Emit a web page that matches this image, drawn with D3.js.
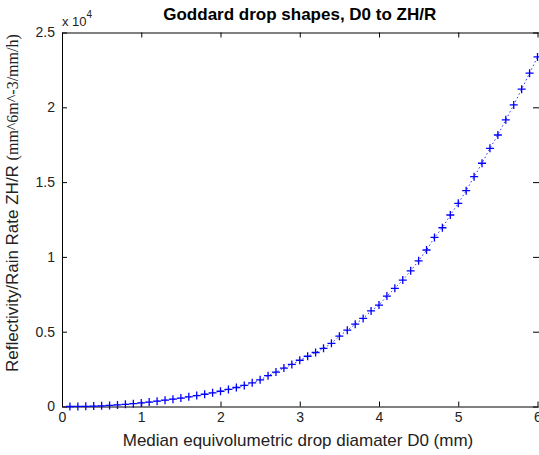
<!DOCTYPE html>
<html>
<head>
<meta charset="utf-8">
<script src="https://cdn.jsdelivr.net/npm/d3@7"></script>
<style>
body { margin: 0; background: #fff; }
svg { display: block; font-family: "Liberation Sans", Arial, sans-serif; }
</style>
</head>
<body>
<script>
// median drop diameter D0 (mm)
var d0 = [0.1,0.2,0.3,0.4,0.5,0.6,0.7,0.8,0.9,1.0,
	1.1,1.2,1.3,1.4,1.5,1.6,1.7,1.8,1.9,2.0,
	2.1,2.2,2.3,2.4,2.5,2.6,2.7,2.8,2.9,3.0,
	3.1,3.2,3.3,3.4,3.5,3.6,3.7,3.8,3.9,4.0,
	4.1,4.2,4.3,4.4,4.5,4.6,4.7,4.8,4.9,5.0,
	5.1,5.2,5.3,5.4,5.5,5.6,5.7,5.8,5.9,6.0];
// ZH/R
var zhr = [1,4,12,26,46,72,105,145,190,240,
	295,355,420,490,565,645,730,820,915,1020,
	1140,1270,1410,1580,1780,2060,2300,2570,2810,3090,
	3360,3610,3890,4220,4700,5100,5500,5890,6390,6780,
	7380,7900,8450,9070,9740,10460,11300,11950,12800,13580,
	14430,15360,16260,17260,18150,19160,20160,21210,22280,23370];
var xTicks = [0,1,2,3,4,5,6];
var yTicks = [0,5000,10000,15000,20000,25000];

var W = 539, H = 455;
var mLeft = 62, mRight = 537.5, mTop = 32.5, mBottom = 406.5;

var svg = d3.select("body").append("svg")
	.attr("width", W)
	.attr("height", H);
svg.append("rect").attr("width", W).attr("height", H).attr("fill", "#fff");

var x = d3.scaleLinear().domain([0, 6]).range([mLeft, mRight]);
var y = d3.scaleLinear().domain([0, 25000]).range([mBottom, mTop]);

function style_axis(g){
	g.selectAll("path.domain").attr("stroke", "#000").attr("stroke-width", 1);
	g.selectAll(".tick line").attr("stroke", "#000");
	g.selectAll(".tick text").attr("fill", "#222")
		.style("font-size", "14px")
		.style("font-family", "Liberation Sans, Arial, sans-serif");
}

// bottom
svg.append("g").attr("transform", "translate(0," + mBottom + ")")
	.call(d3.axisBottom(x).tickValues(xTicks).tickFormat(function(d){ return String(d); })
		.tickSizeInner(-5).tickSizeOuter(0).tickPadding(6))
	.call(style_axis);
// left
svg.append("g").attr("transform", "translate(" + mLeft + ",0)")
	.call(d3.axisLeft(y).tickValues(yTicks).tickFormat(function(d){ return String(d/1e4); })
		.tickSizeInner(-5).tickSizeOuter(0).tickPadding(7))
	.call(style_axis);
// top
svg.append("g").attr("transform", "translate(0," + mTop + ")")
	.call(d3.axisTop(x).tickValues(xTicks).tickFormat("").tickSizeInner(-5).tickSizeOuter(0))
	.call(style_axis);
// right (border line falls outside the picture, only ticks show)
var gr = svg.append("g").attr("transform", "translate(" + (mRight + 1.5) + ",0)")
	.call(d3.axisRight(y).tickValues(yTicks).tickFormat("").tickSizeInner(-6).tickSizeOuter(0))
	.call(style_axis);
gr.select("path.domain").remove();

// exponent
var ex = svg.append("text")
	.attr("x", mLeft)
	.attr("y", 26)
	.attr("fill", "#222")
	.style("font-size", "13px");
ex.append("tspan").text("x 10");
ex.append("tspan").attr("dy", -8).style("font-size", "10px").text("4");

// data
var pts = d0.map(function(d, i){ return [d, zhr[i]]; });
var line = d3.line().x(function(d){ return x(d[0]); }).y(function(d){ return y(d[1]); });
svg.append("path")
	.datum(pts)
	.attr("d", line)
	.attr("fill", "none")
	.attr("stroke", "#0000ff")
	.attr("stroke-width", 1)
	.attr("stroke-dasharray", "1.5,2.5")
	.attr("opacity", 0.8);

var m = 4;
svg.append("g").selectAll("path")
	.data(pts)
	.enter().append("path")
	.attr("d", function(d){
		var px = x(d[0]), py = y(d[1]);
		return "M" + (px - m) + "," + py + "H" + (px + m) +
			"M" + px + "," + (py - m) + "V" + (py + m);
	})
	.attr("stroke", "#0000ff")
	.attr("stroke-width", 1.3)
	.attr("fill", "none");

// title
svg.append("text")
	.attr("x", (mLeft + mRight) / 2)
	.attr("y", 20)
	.attr("text-anchor", "middle")
	.attr("fill", "#000")
	.style("font-size", "17px")
	.style("font-weight", "bold")
	.text("Goddard drop shapes, D0 to ZH/R");

// x label
svg.append("text")
	.attr("x", 298)
	.attr("y", 446)
	.attr("text-anchor", "middle")
	.attr("fill", "#222")
	.style("font-size", "17px")
	.text("Median equivolumetric drop diamater D0 (mm)");

// y label
var yl = svg.append("text")
	.attr("transform", "translate(18,372)rotate(-90)")
	.attr("text-anchor", "start")
	.attr("fill", "#222")
	.style("font-size", "17px");
yl.append("tspan").text("Reflectivity/Rain Rate ZH/R ");
yl.append("tspan")
	.style("font-family", "Liberation Serif, Times New Roman, serif")
	.style("font-size", "16px")
	.text("(mm^6m^-3/mm/h)");
</script>
</body>
</html>
